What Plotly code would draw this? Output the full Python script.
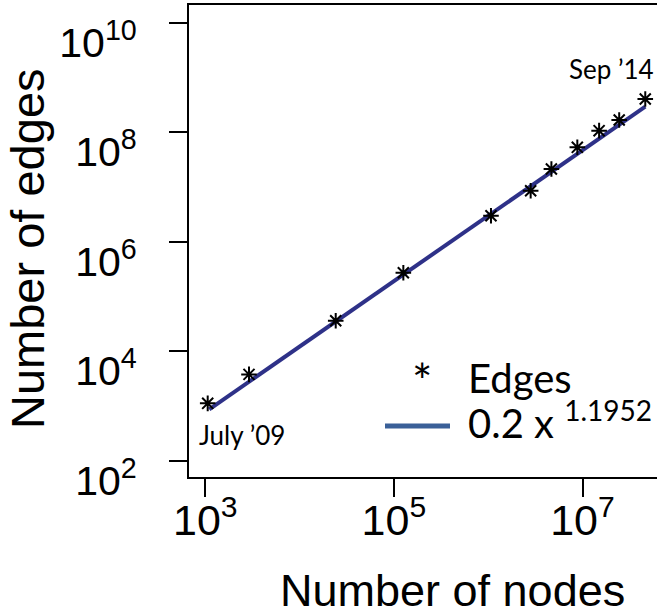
import plotly.graph_objects as go

# Data (log-log)
nodes = [1060, 2906, 24150, 125900, 1.07e6, 2.82e6, 4.68e6, 8.81e6, 1.50e7, 2.45e7, 4.63e7]
edges = [1110, 3750, 35700, 269000, 2.96e6, 8.47e6, 2.11e7, 5.26e7, 1.06e8, 1.66e8, 4.01e8]

# Power-law fit 0.2 x^1.1952 (endpoints as drawn)
fit_x = [1100, 4.63e7]
fit_y = [865, 2.9e8]

x_tickvals = [1e3, 1e5, 1e7]
x_ticktext = ["10<sup>3</sup>", "10<sup>5</sup>", "10<sup>7</sup>"]
y_tickvals = [1e2, 1e4, 1e6, 1e8, 1e10]
y_ticktext = ["10<sup>2</sup>", "10<sup>4</sup>", "10<sup>6</sup>", "10<sup>8</sup>", "10<sup>10</sup>"]

W, H = 657, 615
L, R, T, B = 189, 0, 5, 138
PW, PH = W - L - R, H - T - B

def px(x):
    return (x - L) / PW

def py(y):
    return (H - B - y) / PH

fig = go.Figure()
fig.add_trace(go.Scatter(x=fit_x, y=fit_y, mode="lines",
                         line=dict(color="#2E3188", width=4), showlegend=False))
fig.add_trace(go.Scatter(x=nodes, y=edges, mode="markers",
                         marker=dict(symbol="asterisk-open", size=13, color="black",
                                     line=dict(color="black", width=2)),
                         showlegend=False))

xtickfont = dict(family="Liberation Sans, Arial, sans-serif", size=43, color="black")
ytickfont = dict(family="Liberation Sans, Arial, sans-serif", size=41, color="black")
fig.update_xaxes(type="log", range=[2.827, 7.79], tickvals=x_tickvals, ticktext=x_ticktext,
                 showline=True, mirror=True, linecolor="black", linewidth=2,
                 ticks="outside", ticklen=18, tickwidth=2, tickcolor="black",
                 showgrid=False, zeroline=False, tickfont=xtickfont, automargin=False,
                 ticklabelstandoff=-14, ticklabeloverflow="allow")
fig.update_yaxes(type="log", range=[1.70, 10.32], tickvals=y_tickvals, ticktext=y_ticktext,
                 showline=True, mirror=False, linecolor="black", linewidth=2,
                 ticks="outside", ticklen=18, tickwidth=2, tickcolor="black",
                 showgrid=False, zeroline=False, tickfont=ytickfont, automargin=False,
                 ticklabelstandoff=24, ticklabelshift=20, ticklabeloverflow="allow")

lato = "Lato, Open Sans, sans-serif"
ann = [
    dict(text="Number of nodes", x=px(452), y=py(590), xanchor="center", yanchor="middle",
         font=dict(family="Liberation Sans, Arial", size=45, color="black")),
    dict(text="Number of edges", x=px(28), y=py(249), xanchor="center", yanchor="middle",
         textangle=-90, font=dict(family="Liberation Sans, Arial", size=47, color="black")),
    dict(text="July \u201909", x=px(197), y=py(435), xanchor="left", yanchor="middle",
         font=dict(family=lato, size=26, color="black")),
    dict(text="Sep \u201914", x=px(567), y=py(69), xanchor="left", yanchor="middle",
         font=dict(family=lato, size=26, color="black")),
    dict(text="*", x=px(422), y=py(380), xanchor="center", yanchor="middle",
         font=dict(family=lato, size=48, color="black")),
    dict(text="Edges", x=px(466), y=py(378), xanchor="left", yanchor="middle",
         font=dict(family=lato, size=40, color="black")),
    dict(text="0.2 x <sup>1.1952</sup>", x=px(466), y=py(420), xanchor="left", yanchor="middle",
         font=dict(family=lato, size=40, color="black")),
]
for a in ann:
    a.update(xref="paper", yref="paper", showarrow=False)

fig.update_layout(
    width=W, height=H, margin=dict(l=L, r=R, t=T, b=B, autoexpand=False),
    paper_bgcolor="white", plot_bgcolor="white",
    annotations=ann,
    shapes=[dict(type="line", xref="paper", yref="paper",
                 x0=px(385), x1=px(450), y0=py(426), y1=py(426),
                 line=dict(color="#3A6098", width=5))],
)

fig.write_html("out.html", config={"displayModeBar": False},
               post_script="document.body.style.margin='0px';document.body.style.overflow='hidden';")
